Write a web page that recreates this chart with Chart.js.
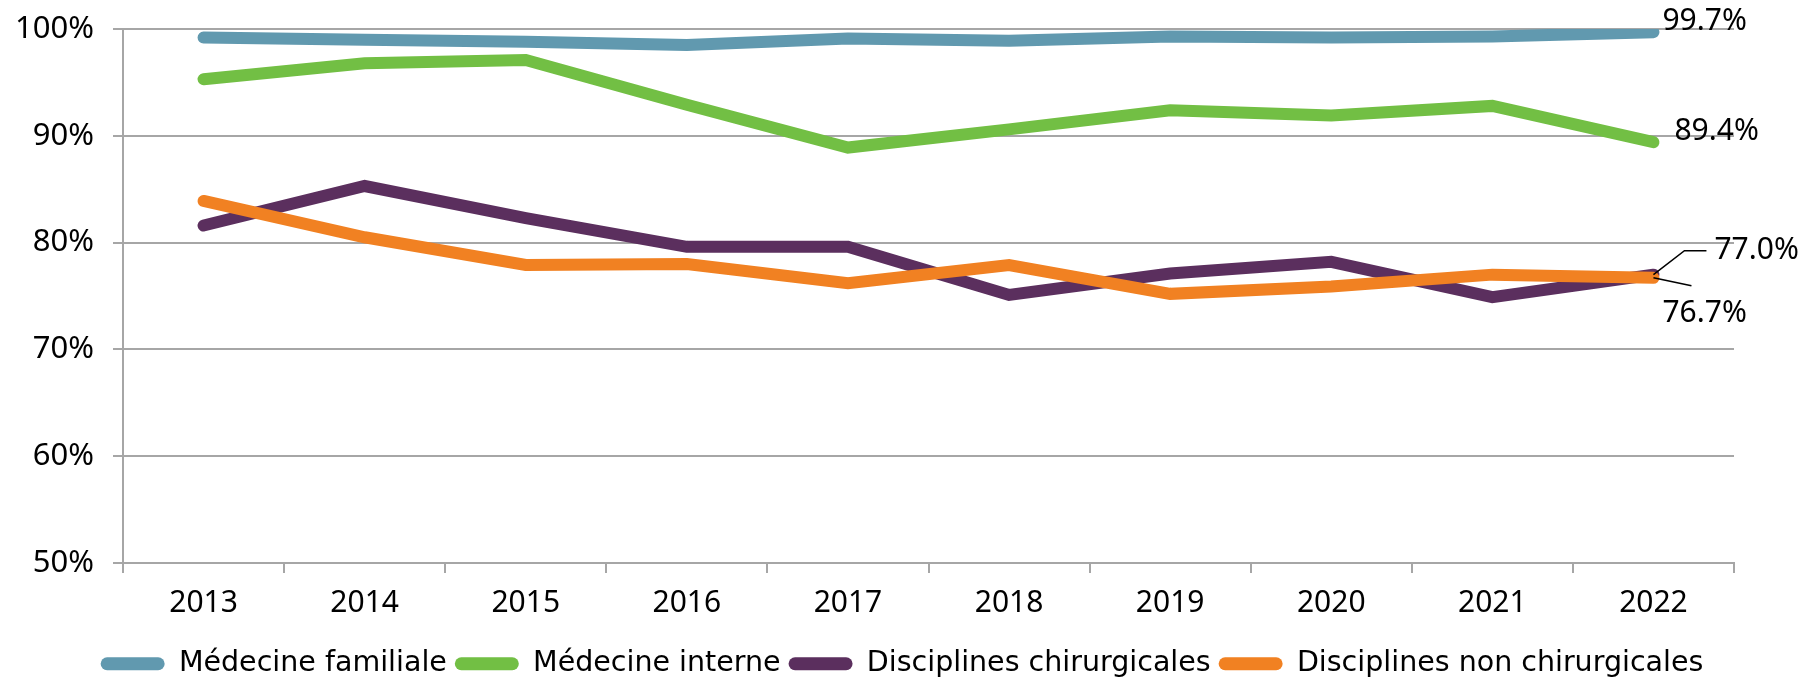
<!DOCTYPE html>
<html>
<head>
<meta charset="utf-8">
<script src="https://cdn.jsdelivr.net/npm/chart.js@4"></script>
<style>
    body { margin: 0; background: #fff; }
    #wrap { width: 1810px; height: 679px; }
</style>
</head>
<body>
<div id="wrap"><canvas id="lineChart"></canvas></div>
<script>
// 年（横軸）
const years = ['2013', '2014', '2015', '2016', '2017', '2018', '2019', '2020', '2021', '2022'];

// 各分野の割合（%）
const medecineFamiliale = [99.2, 99.0, 98.8, 98.5, 99.1, 98.9, 99.3, 99.2, 99.3, 99.7];
const medecineInterne   = [95.3, 96.8, 97.1, 92.9, 88.9, 90.6, 92.4, 91.9, 92.8, 89.4];
const chirurgicales     = [81.6, 85.3, 82.3, 79.6, 79.6, 75.1, 77.1, 78.2, 74.9, 77.0];
const nonChirurgicales  = [83.9, 80.5, 77.9, 78.0, 76.2, 77.9, 75.2, 75.9, 77.0, 76.7];

const seriesNames  = ['Médecine familiale', 'Médecine interne', 'Disciplines chirurgicales', 'Disciplines non chirurgicales'];
const seriesColors = ['#6199AF', '#72BF44', '#5B2F5E', '#F18122'];

const FONT = '"Noto Sans", sans-serif';

// 最終年のラベル（テキストと位置のずらし方）
const endLabels = [
    { ds: 0, dx: 9,  dy: -11 },
    { ds: 1, dx: 21, dy: -11 },
    { ds: 2, dx: 61, dy: -24, leader: [[31, -24], [53, -24]] },
    { ds: 3, dx: 9,  dy: 36,  leader: [[38, 8]] }
];

const endLabelPlugin = {
    id: 'endLabels',
    afterLayout(chart) {
        // 凡例を下へ、キャンバス中央へずらす
        chart.legend.top += 9;
        chart.legend.bottom += 9;
        chart.legend.left += 35;
        chart.legend.right += 35;
    },
    afterDatasetsDraw(chart) {
        const ctx = chart.ctx;
        ctx.save();
        ctx.font = '30px ' + FONT;
        ctx.fillStyle = '#000';
        ctx.strokeStyle = '#000';
        ctx.lineWidth = 1.5;
        ctx.textBaseline = 'middle';
        endLabels.forEach(function(l) {
            const meta = chart.getDatasetMeta(l.ds);
            const pt = meta.data[meta.data.length - 1];
            const value = chart.data.datasets[l.ds].data[meta.data.length - 1];
            if (l.leader) {
                ctx.beginPath();
                ctx.moveTo(pt.x, pt.y);
                l.leader.forEach(function(p) {
                    ctx.lineTo(pt.x + p[0], pt.y + p[1]);
                });
                ctx.stroke();
            }
            ctx.textAlign = 'left';
            ctx.fillText(value.toFixed(1) + '%', pt.x + l.dx, pt.y + l.dy);
        });
        ctx.restore();
    }
};

const datasets = [medecineFamiliale, medecineInterne, chirurgicales, nonChirurgicales].map(function(values, i) {
    return {
        label: seriesNames[i],
        data: values,
        borderColor: seriesColors[i],
        backgroundColor: seriesColors[i],
        borderWidth: 12,
        borderCapStyle: 'round',
        pointRadius: 0,
        tension: 0,
        order: 3 - i   // オレンジを一番上に描く
    };
});

new Chart(document.getElementById('lineChart').getContext('2d'), {
    type: 'line',
    data: { labels: years, datasets: datasets },
    plugins: [endLabelPlugin],
    options: {
        responsive: true,
        maintainAspectRatio: false,
        animation: false,
        layout: { padding: { top: 29, right: 76, left: 0, bottom: 0 } },
        plugins: {
            tooltip: { enabled: false },
            legend: {
                position: 'bottom',
                labels: {
                    font: { family: '"DejaVu Sans", sans-serif', size: 28.5 },
                    color: '#000',
                    boxWidth: 64,
                    boxHeight: 13,
                    useBorderRadius: true,
                    borderRadius: 6.5,
                    padding: 8,
                    sort: function(a, b) { return a.datasetIndex - b.datasetIndex; },
                    generateLabels: function(chart) {
                        // 凡例の枠線は消す
                        const items = Chart.defaults.plugins.legend.labels.generateLabels(chart);
                        items.forEach(function(item) { item.lineWidth = 0; });
                        return items;
                    }
                }
            }
        },
        scales: {
            x: {
                offset: true,
                grid: {
                    offset: true,
                    drawOnChartArea: false,
                    color: '#A6A6A6',
                    lineWidth: 2,
                    tickLength: 10
                },
                border: { color: '#A6A6A6', width: 2 },
                ticks: {
                    font: { family: FONT, size: 30 },
                    color: '#000',
                    padding: 12,
                    maxRotation: 0
                },
                afterFit: function(scale) { scale.height = 116 - scale.chart.legend.height; }
            },
            y: {
                min: 50,
                max: 100,
                grid: { color: '#A6A6A6', lineWidth: 2, tickLength: 10 },
                border: { color: '#A6A6A6', width: 2 },
                ticks: {
                    stepSize: 10,
                    font: { family: FONT, size: 31 },
                    color: '#000',
                    padding: 19,
                    callback: function(v) { return v + '%'; }
                },
                afterFit: function(scale) {
                    scale.width = 123;
                    scale.paddingTop = 0;
                    scale.paddingBottom = 0;
                }
            }
        }
    }
});
</script>
</body>
</html>
